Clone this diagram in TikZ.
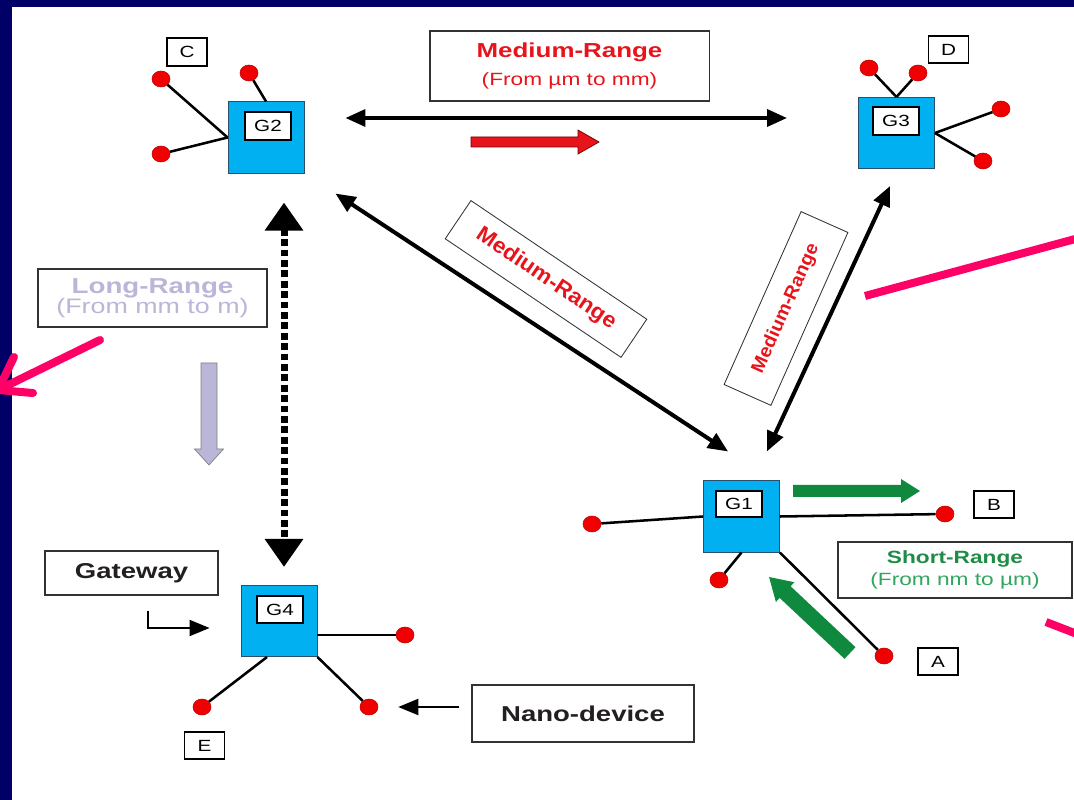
\documentclass[tikz,border=0pt]{standalone}
\usepackage{fontspec}
\setmainfont{Liberation Sans}[FakeStretch=1.28]
\newfontfamily\rotfont{Liberation Sans}[FakeStretch=1.05]
\usetikzlibrary{arrows.meta,shapes.geometric}
\definecolor{framenavy}{RGB}{0,0,102}
\definecolor{gwcyan}{RGB}{0,176,240}
\definecolor{gwedge}{RGB}{40,80,110}
\definecolor{dotred}{RGB}{240,0,0}
\definecolor{txtred}{RGB}{232,20,28}
\definecolor{txtgreen}{RGB}{30,140,70}
\definecolor{subgreen}{RGB}{50,165,95}
\definecolor{arrgreen}{RGB}{14,137,62}
\definecolor{lavender}{RGB}{186,182,216}
\definecolor{markpink}{RGB}{255,0,102}
\definecolor{boxline}{RGB}{50,50,50}
\definecolor{inkblack}{RGB}{35,31,32}

\begin{document}
\begin{tikzpicture}[x=0.025cm, y=-0.025cm,
    gwbox/.style={draw=gwedge, line width=0.6pt, fill=gwcyan, minimum width=1.9cm, minimum height=1.78cm, inner sep=0pt},
    tagbox/.style={draw, line width=1.4pt, fill=white, minimum width=1.15cm, minimum height=0.68cm, inner sep=0pt, font=\fontsize{11.5}{11.5}\selectfont},
    letterbox/.style={tagbox, minimum width=1cm},
    dev/.style={ellipse, draw=red!75!black, line width=0.4pt, fill=dotred, minimum width=0.45cm, minimum height=0.4cm, inner sep=0pt},
    wire/.style={line width=1.8pt},
    rangebox/.style={draw=boxline, line width=0.9pt, fill=white, inner sep=0pt, align=center},
    linkarrow/.style={line width=0.1cm, {Triangle[length=0.5cm,width=0.42cm]}-{Triangle[length=0.5cm,width=0.42cm]}},
    ptrarrow/.style={line width=1.4pt, -{Triangle[length=0.5cm,width=0.4cm]}},
    pinkpen/.style={draw=markpink, line width=0.2cm}
  ]
    \useasboundingbox (0,0) rectangle (1074,800);
    \clip (0,0) rectangle (1074,800);
    \fill[framenavy] (0,0) rectangle (1074,800);
    \fill[white] (12,7) rectangle (1074,800);

    \node[gwbox] (g2) at (266,137.5) {};
        \node[tagbox] (g2t) at (268,126) {G2};
    \node[gwbox] (g3) at (896.5,133) {};
        \node[tagbox] (g3t) at (896,121) {G3};
    \node[gwbox] (g1) at (741.5,516.5) {};
        \node[tagbox, minimum height=0.65cm] (g1t) at (739,504) {G1};
    \node[gwbox] (g4) at (279,621) {};
        \node[tagbox] (g4t) at (280,609.5) {G4};

    \node[letterbox] (lc) at (187,52) {C};
    \node[letterbox] (ld) at (948.5,49.5) {D};
    \node[letterbox] (le) at (204.5,745.5) {E};
    \node[letterbox] (la) at (938,661.5) {A};
    \node[letterbox] (lb) at (994,504.5) {B};

    \node[dev] (c1) at (161,79) {};
    \node[dev] (c2) at (249,73) {};
    \node[dev] (c3) at (161,154) {};
    \draw[wire] (c1) -- (g2.west);
    \draw[wire] (c3) -- (g2.west);
    \draw[wire] (c2) -- (g2.north);

    \node[dev] (d1) at (869,68) {};
    \node[dev] (d2) at (918,73) {};
    \node[dev] (d3) at (1001,109) {};
    \node[dev] (d4) at (983,161) {};
    \draw[wire] (d1) -- (g3.north);
    \draw[wire] (d2) -- (g3.north);
    \draw[wire] (d3) -- (g3.east);
    \draw[wire] (d4) -- (g3.east);

    \node[dev] (b1) at (592,524) {};
    \node[dev] (b2) at (945,514) {};
    \node[dev] (b3) at (719,580) {};
    \node[dev] (b4) at (884,656) {};
    \draw[wire] (b1) -- (g1.west);
    \draw[wire] (b2) -- (g1.east);
    \draw[wire] (b3) -- (g1.south);
    \draw[wire] (b4) -- (g1.south east);

    \node[dev] (e1) at (405,635) {};
    \node[dev] (e2) at (202,707) {};
    \node[dev] (e3) at (369,707) {};
    \draw[wire] (e1) -- (e1 -| g4.east);
    \draw[wire] (e2) -- ([xshift=-0.3cm]g4.south);
    \draw[wire] (e3) -- (g4.south east);

    \node[rangebox, minimum width=6.98cm, minimum height=1.75cm, text=txtred, font=\fontsize{12.6}{20}\selectfont] (medtop) at (569.5,66)
        {\textbf{\fontsize{14.4}{20}\selectfont Medium-Range}\\(From µm to mm)};
    \node[rangebox, rotate=-34, line width=0.6pt, minimum width=5.3cm, minimum height=1.15cm, text=txtred, font=\rotfont\bfseries\fontsize{15.5}{15.5}\selectfont] (medleft) at (546,279) {Medium-Range};
    \node[rangebox, rotate=66, line width=0.6pt, minimum width=4.73cm, minimum height=1.28cm, text=txtred, font=\rotfont\bfseries\fontsize{13.2}{13.2}\selectfont] (medright) at (786,308.5) {Medium-Range};
    \node[rangebox, minimum width=5.73cm, minimum height=1.45cm, text=lavender, font=\fontsize{14.9}{14.2}\selectfont] (long) at (152.5,298)
        {\textbf{\fontsize{15.4}{14.2}\selectfont Long-Range}\\(From mm to m)};
    \node[rangebox, minimum width=5.85cm, minimum height=1.4cm, text=subgreen, font=\fontsize{12.6}{15.6}\selectfont] (short) at (955,570)
        {\textcolor{txtgreen}{\textbf{Short-Range}}\\(From nm to µm)};
    \node[rangebox, minimum width=4.33cm, minimum height=1.1cm, text=inkblack, font=\bfseries\fontsize{15.3}{15.3}\selectfont] (gateway) at (131.5,573) {Gateway};
    \node[rangebox, minimum width=5.55cm, minimum height=1.43cm, text=inkblack, font=\bfseries\fontsize{15.3}{15.3}\selectfont] (nano) at (583,713.5) {Nano-device};

    \draw[linkarrow] ([shift={(41,-19.5)}]g2.east) -- ([shift={(-71,-15)}]g3.west);
    \draw[linkarrow] ([shift={(31,20)}]g2.south east) -- ([shift={(25,-29)}]g1.north west);
    \draw[linkarrow] ([shift={(-6.5,17)}]g3.south) -- ([shift={(-13,-29)}]g1.north east);
    \draw[line width=0.175cm, dash pattern=on 0.17cm off 0.09cm, {Triangle[length=0.7cm,width=0.92cm]}-{Triangle[length=0.7cm,width=0.92cm]}]
        ([shift={(18,29)}]g2.south) -- ([shift={(5,-18)}]g4.north);
    \draw[ptrarrow] ([shift={(-12,-6.5)}]nano.west) -- ([xshift=0.5cm]e3.east);
    \draw[ptrarrow] ([shift={(16.5,15)}]gateway.south) |- ([shift={(-31,7)}]g4.west);

    \filldraw[fill=txtred, draw=red!45!black, line width=0.5pt] (471,137) -- (578,137) -- (578,130) -- (599,142) -- (578,154) -- (578,147) -- (471,147) -- cycle;
    \filldraw[fill=lavender, draw=gray, line width=0.5pt] (201,363) -- (217,363) -- (217,449) -- (223.5,449) -- (209,465) -- (194.5,449) -- (201,449) -- cycle;
    \fill[arrgreen] (793,485) -- (901,485) -- (901,479) -- (920,491) -- (901,503) -- (901,497) -- (793,497) -- cycle;
    \begin{scope}[shift={(850,653)}, rotate=136.8]
        \fill[arrgreen] (0,-8) -- (89,-8) -- (89,-13.5) -- (111,0) -- (89,13.5) -- (89,8) -- (0,8) -- cycle;
    \end{scope}

    \draw[pinkpen] (865,296) -- (1090,235);
    \draw[pinkpen] (1046,622) -- (1090,639);
    \draw[pinkpen, line cap=round] (100,340) -- (-2,390);
    \draw[pinkpen, line cap=round, line join=round] (14,357) -- (-2,390) -- (33,393);
\end{tikzpicture}
\end{document}
